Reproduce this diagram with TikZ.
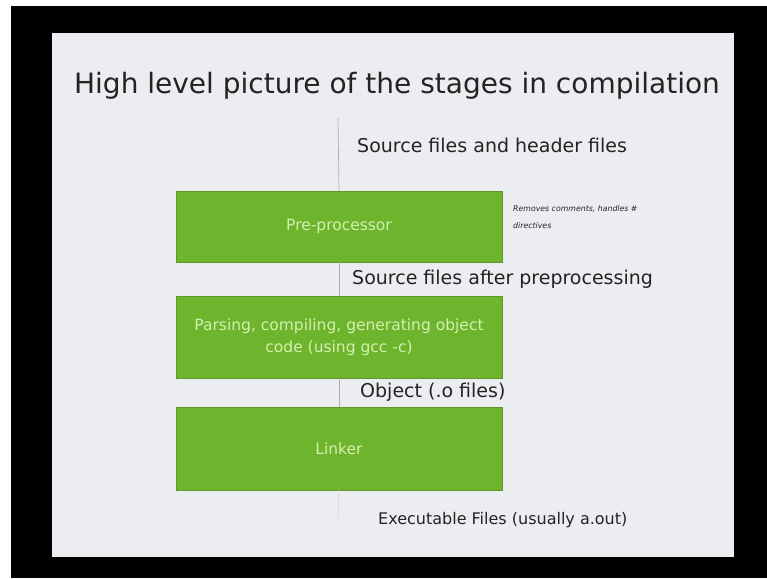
\documentclass[tikz,border=0pt]{standalone}
\usepackage{fontspec}
\setmainfont{DejaVu Sans}
\usetikzlibrary{positioning}
\definecolor{SlideGrey} {RGB}{236,237,240}
\definecolor{StageGreen}{RGB}{110,180,45}
\definecolor{StageText} {RGB}{210,240,175}
\definecolor{WireGrey}  {RGB}{175,175,178}
\definecolor{InkGrey}   {RGB}{35,35,35}

\begin{document}
\begin{tikzpicture}[
  x=1pt, y=-1pt,
  stage/.style={rectangle, minimum width=326pt, fill=StageGreen,
                draw=StageGreen!85!black, line width=0.6pt, text=StageText,
                align=center, font=\fontsize{15.5}{22}\selectfont,
                outer sep=0pt, inner sep=0pt},
  lbl/.style={anchor=west, inner sep=0pt, text=InkGrey,
              font=\fontsize{19}{22}\selectfont},
  note/.style={anchor=north west, align=left, inner sep=0pt, text=InkGrey,
               font=\fontsize{7.8}{17}\selectfont\itshape},
  wire/.style={draw=WireGrey, line width=0.7pt}
]
\useasboundingbox (0,0) rectangle (767,578);
\fill[white] (0,0) rectangle (767,578);
\fill[black] (11,6) rectangle (767,578);
\fill[SlideGrey] (52,33) rectangle (734,557);

\node[text=InkGrey, font=\fontsize{28}{32}\selectfont] (title) at (397,86)
      {High level picture of the stages in compilation};

\node[stage, minimum height=71pt] (pre) at (339,226.5) {Pre-processor};
\node[stage, minimum height=82pt, below=34pt of pre] (parse)
      {Parsing, compiling, generating object\\ code (using gcc -c)};
\node[stage, minimum height=83pt, below=29pt of parse] (link) {Linker};

\coordinate (srcin) at (338,118);
\coordinate (exeout) at (338,518);

\draw[wire] (srcin) -- (pre.north);
\draw[wire] (pre.south) -- (parse.north);
\draw[wire] (parse.south) -- (link.north);
\draw[wire, draw=WireGrey!50] (link.south) -- (exeout);

\node[lbl] (srclbl) at (357,145) {Source files and header files};
\node[note] (prenote) at ([shift={(11,14)}]pre.north east)
      {Removes comments, handles \#\\ directives};
\node[lbl] (ppllbl) at (352,279) {Source files after preprocessing};
\node[lbl] (objlbl) at (360,392.5) {Object (.o files)};
\node[lbl, font=\fontsize{16}{19}\selectfont] (exelbl) at (378,520)
      {Executable Files (usually a.out)};

\end{tikzpicture}
\end{document}
